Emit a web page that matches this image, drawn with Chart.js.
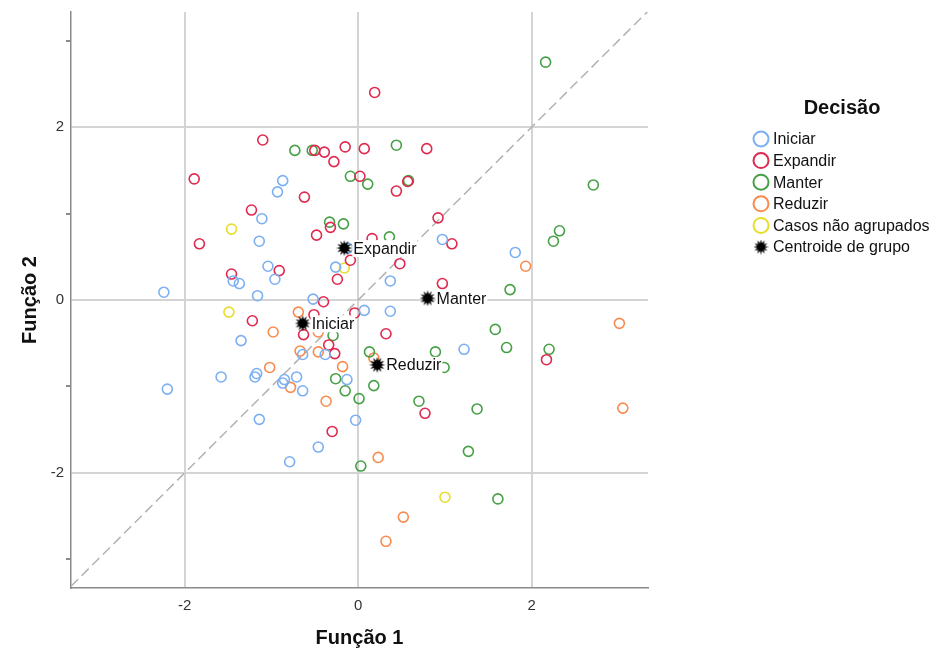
<!DOCTYPE html>
<html>
<head>
<meta charset="utf-8">
<script src="https://cdn.jsdelivr.net/npm/chart.js@4.4.1/dist/chart.umd.min.js"></script>
<style>
  html, body { margin: 0; padding: 0; background: #fff; }
</style>
</head>
<body>
<canvas id="chart" width="937" height="655"></canvas>
<script>
// ---------- data ----------
const FONT = '"Liberation Sans", Arial, sans-serif';

const X_MIN = -3.31, X_MAX = 3.34;
const Y_MIN = -3.33, Y_MAX = 3.33;
const AXIS_TICKS = [-3, -2, -1, 0, 1, 2, 3];

const LEGEND_TITLE = 'Decisão';
const GROUPS = ['Iniciar', 'Expandir', 'Manter', 'Reduzir', 'Casos não agrupados'];
const GROUP_COLORS = ['#7cb0f2', '#e0294f', '#46a046', '#f98b4f', '#e6de2a'];
const CENTROID_LABEL = 'Centroide de grupo';

const iniciar = [
  [-0.87, 1.38], [-0.93, 1.25], [-1.11, 0.94], [-1.14, 0.68], [-1.04, 0.39], [-0.96, 0.24],
  [-1.44, 0.22], [-1.37, 0.19], [-2.24, 0.09], [-1.16, 0.05], [-0.52, 0.01], [-0.26, 0.38],
  [-0.12, 0.60], [0.97, 0.70], [0.37, 0.22], [0.07, -0.12], [0.37, -0.13], [1.81, 0.55],
  [1.22, -0.57], [-1.35, -0.47], [-0.64, -0.63], [-0.38, -0.63], [-1.58, -0.89], [-1.17, -0.85],
  [-1.19, -0.89], [-0.71, -0.89], [-0.85, -0.92], [-0.87, -0.96], [-0.13, -0.92], [-2.20, -1.03],
  [-0.64, -1.05], [-1.14, -1.38], [-0.03, -1.39], [-0.46, -1.70], [-0.79, -1.87]
];
const expandir = [
  [-1.10, 1.85], [0.19, 2.40], [-0.50, 1.73], [-0.39, 1.71], [-0.15, 1.77], [0.07, 1.75],
  [0.79, 1.75], [-0.28, 1.60], [0.02, 1.43], [-1.89, 1.40], [0.44, 1.26], [0.57, 1.37],
  [-0.62, 1.19], [-1.23, 1.04], [-0.32, 0.84], [-0.48, 0.75], [0.92, 0.95], [1.08, 0.65],
  [0.16, 0.71], [-0.09, 0.46], [0.48, 0.42], [-0.91, 0.34], [-1.83, 0.65], [-1.46, 0.30],
  [-0.24, 0.24], [0.97, 0.19], [-0.40, -0.02], [-1.22, -0.24], [-0.51, -0.17], [-0.04, -0.15],
  [-0.63, -0.40], [-0.34, -0.52], [-0.27, -0.62], [0.32, -0.39], [2.17, -0.69], [0.77, -1.31],
  [-0.30, -1.52]
];
const manter = [
  [2.16, 2.75], [-0.73, 1.73], [-0.53, 1.73], [0.44, 1.79], [-0.09, 1.43], [0.11, 1.34],
  [0.58, 1.38], [2.71, 1.33], [-0.33, 0.90], [-0.17, 0.88], [0.36, 0.73], [2.25, 0.68],
  [2.32, 0.80], [1.75, 0.12], [1.58, -0.34], [1.71, -0.55], [2.20, -0.57], [-0.29, -0.41],
  [0.13, -0.60], [0.89, -0.60], [0.99, -0.78], [-0.26, -0.91], [0.18, -0.99], [-0.15, -1.05],
  [0.01, -1.14], [0.70, -1.17], [1.37, -1.26], [1.27, -1.75], [0.03, -1.92], [1.61, -2.30]
];
const reduzir = [
  [1.93, 0.39], [3.01, -0.27], [-0.69, -0.14], [-0.98, -0.37], [-0.67, -0.59], [-0.46, -0.60],
  [-1.02, -0.78], [-0.18, -0.77], [0.18, -0.67], [-0.78, -1.01], [-0.37, -1.17], [3.05, -1.25],
  [0.23, -1.82], [0.52, -2.51], [0.32, -2.79], [-0.46, -0.37]
];
const naoAgrupados = [
  [-1.46, 0.82], [-0.16, 0.37], [-1.49, -0.14], [1.00, -2.28]
];
const centroidNames = ['Iniciar', 'Expandir', 'Manter', 'Reduzir'];
const centroids = [
  [-0.64, -0.27], [-0.16, 0.60], [0.80, 0.02], [0.22, -0.75]
];

const SERIES = [iniciar, expandir, manter, reduzir, naoAgrupados];
const toXY = arr => arr.map(([x, y]) => ({ x, y }));

// ---------- burst marker used for the group centroids ----------
function burst(size, color) {
  const c = document.createElement('canvas');
  c.width = c.height = size;
  const g = c.getContext('2d');
  const r0 = size / 2, r1 = size * 0.27, n = 12;
  g.beginPath();
  for (let i = 0; i < n * 2; i++) {
    const r = i % 2 ? r1 : r0;
    const a = Math.PI * i / n - Math.PI / 2;
    g.lineTo(r0 + r * Math.cos(a), r0 + r * Math.sin(a));
  }
  g.closePath();
  g.fillStyle = color;
  g.fill();
  return c;
}
const STAR = burst(16, '#000');
const STAR_SMALL = burst(15, '#000');

// ---------- centroid text labels (white box behind, like SPSS) ----------
const centroidLabels = {
  id: 'centroidLabels',
  afterDatasetsDraw(chart) {
    const i = chart.data.datasets.findIndex(d => d.isCentroid);
    if (i < 0) return;
    const meta = chart.getDatasetMeta(i);
    const ctx = chart.ctx;
    ctx.save();
    ctx.font = '16px ' + FONT;
    ctx.textBaseline = 'middle';
    ctx.textAlign = 'left';
    meta.data.forEach((pt, k) => {
      const txt = centroidNames[k];
      const w = ctx.measureText(txt).width;
      const tx = pt.x + 8;
      ctx.fillStyle = '#fff';
      ctx.fillRect(tx, pt.y - 8, w + 2, 17);
      ctx.fillStyle = '#111';
      ctx.fillText(txt, tx + 1, pt.y + 1);
    });
    ctx.restore();
  }
};

// ---------- legend drawn on the right ----------
const sideLegend = {
  id: 'sideLegend',
  afterDraw(chart) {
    const ctx = chart.ctx;
    ctx.save();
    ctx.fillStyle = '#111';
    ctx.font = 'bold 20px ' + FONT;
    ctx.textAlign = 'center';
    ctx.textBaseline = 'middle';
    ctx.fillText(LEGEND_TITLE, 842, 108);

    const mx = 761, y0 = 139, step = 21.6;
    ctx.font = '16px ' + FONT;
    ctx.textAlign = 'left';
    GROUPS.forEach((name, i) => {
      const y = y0 + i * step;
      ctx.beginPath();
      ctx.arc(mx, y, 7.5, 0, Math.PI * 2);
      ctx.strokeStyle = GROUP_COLORS[i];
      ctx.lineWidth = 2;
      ctx.stroke();
      ctx.fillStyle = '#111';
      ctx.fillText(name, 773, y + 1);
    });
    const yc = y0 + GROUPS.length * step;
    ctx.drawImage(STAR_SMALL, mx - 7.5, yc - 7.5);
    ctx.fillStyle = '#111';
    ctx.fillText(CENTROID_LABEL, 773, yc + 1);
    ctx.restore();
  }
};

// ---------- chart ----------
const GRID = '#d4d4d4';
const AXIS = '#8a8a8a';

const datasets = SERIES.map((s, i) => ({
  label: GROUPS[i],
  data: toXY(s),
  pointStyle: 'circle',
  pointRadius: 5,
  pointHoverRadius: 5,
  borderWidth: 1.6,
  borderColor: GROUP_COLORS[i],
  backgroundColor: 'transparent',
  order: 5
}));

datasets.push({
  label: CENTROID_LABEL,
  isCentroid: true,
  data: toXY(centroids),
  pointStyle: STAR,
  pointRadius: 8,
  borderWidth: 0,
  backgroundColor: '#000',
  order: 1
});

// y = x reference line across the plot
datasets.push({
  type: 'line',
  label: 'diag',
  data: [{ x: X_MIN, y: X_MIN }, { x: X_MAX, y: X_MAX }],
  borderColor: '#b2b2b2',
  borderWidth: 1.5,
  borderDash: [10, 5],
  pointRadius: 0,
  fill: false,
  order: 10
});

const tickLabel = v => (v % 2 === 0 ? String(v) : '');
const evenGrid = c => (c.tick && c.tick.value % 2 === 0 ? GRID : 'rgba(0,0,0,0)');

new Chart(document.getElementById('chart'), {
  type: 'scatter',
  data: { datasets },
  options: {
    responsive: false,
    animation: false,
    events: [],
    layout: { padding: { top: 12, right: 937 - 648, left: 0, bottom: 0 } },
    plugins: { legend: { display: false }, tooltip: { enabled: false } },
    scales: {
      x: {
        type: 'linear', min: X_MIN, max: X_MAX,
        afterBuildTicks: s => { s.ticks = AXIS_TICKS.map(v => ({ value: v })); },
        afterFit: s => { s.height = 67; },
        grid: { color: evenGrid, lineWidth: 2, drawTicks: true, tickLength: 6, tickColor: 'rgba(0,0,0,0)' },
        border: { color: AXIS, width: 1.5 },
        ticks: { callback: tickLabel, autoSkip: false, maxRotation: 0, padding: 3,
                 color: '#333', font: { family: FONT, size: 15 } },
        title: { display: true, text: 'Função 1', color: '#111',
                 font: { family: FONT, size: 20, weight: 'bold' }, padding: { top: 5, bottom: 5 } }
      },
      y: {
        type: 'linear', min: Y_MIN, max: Y_MAX,
        afterBuildTicks: s => { s.ticks = AXIS_TICKS.map(v => ({ value: v })); },
        afterFit: s => { s.width = 71; },
        grid: { color: evenGrid, lineWidth: 2, drawTicks: true, tickLength: 5,
                tickColor: c => (c.tick && c.tick.value % 2 !== 0 ? AXIS : 'rgba(0,0,0,0)') },
        border: { color: AXIS, width: 1.5 },
        ticks: { callback: tickLabel, autoSkip: false, padding: 2,
                 color: '#333', font: { family: FONT, size: 15 } },
        title: { display: true, text: 'Função 2', color: '#111',
                 font: { family: FONT, size: 20, weight: 'bold' }, padding: { top: 18, bottom: 18 } }
      }
    }
  },
  plugins: [centroidLabels, sideLegend]
});
</script>
</body>
</html>
